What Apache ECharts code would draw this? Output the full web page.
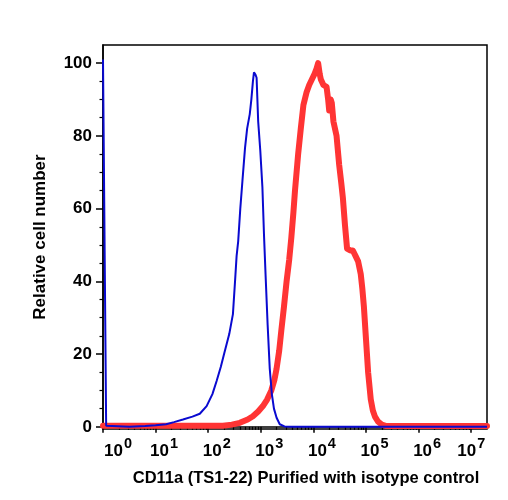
<!DOCTYPE html>
<html>
<head>
<meta charset="utf-8">
<script src="https://cdn.jsdelivr.net/npm/echarts@6/dist/echarts.min.js"></script>
<style>
  html, body { margin: 0; padding: 0; background: #fff; }
  #chart { width: 508px; height: 500px; }
</style>
</head>
<body>
<div id="chart"></div>
<script>
// x positions are log10 of fluorescence intensity (decades)
const isotypeLog = [0, 0.06, 0.5, 0.8, 1.0, 1.2, 1.35, 1.52, 1.7, 1.84, 1.97, 2.08, 2.16, 2.24, 2.31, 2.4, 2.47, 2.51, 2.54, 2.57, 2.61, 2.65, 2.7, 2.74, 2.79, 2.82, 2.85, 2.87, 2.9, 2.92, 2.95, 2.99, 3.03, 3.06, 3.09, 3.13, 3.17, 3.21, 3.25, 3.3, 3.36, 3.45, 3.6, 7.3];
const isotypeCount = [101, 0.3, 0, 0.2, 0.4, 0.7, 1.3, 2, 2.8, 3.6, 5.7, 9, 12.6, 16.5, 20.5, 25.5, 31, 40, 47, 51, 60, 67.5, 76.7, 82, 86, 90, 95, 97.5, 96.8, 96, 84, 76, 66, 53, 42, 28, 16, 9, 5, 2.5, 0.7, 0.1, 0, 0];

const cd11aLog = [0, 2.28, 2.45, 2.6, 2.75, 2.85, 2.95, 3.04, 3.12, 3.2, 3.26, 3.3, 3.35, 3.39, 3.44, 3.49, 3.54, 3.58, 3.62, 3.65, 3.71, 3.76, 3.81, 3.87, 3.92, 3.97, 4.02, 4.06, 4.09, 4.12, 4.14, 4.17, 4.19, 4.25, 4.28, 4.3, 4.33, 4.35, 4.38, 4.44, 4.49, 4.53, 4.56, 4.6, 4.64, 4.7, 4.75, 4.8, 4.85, 4.9, 4.93, 4.96, 5.0, 5.04, 5.09, 5.13, 5.17, 5.23, 5.3, 5.39, 7.3];
const cd11aCount = [0.3, 0.3, 0.6, 1.1, 2, 2.9, 4.2, 5.7, 7.5, 10, 13, 16, 21, 26.5, 33, 40, 46, 52, 59, 65, 75, 82, 88.5, 92, 94, 95.5, 97, 98.5, 100, 97, 95.6, 96, 94, 93.5, 90, 87, 90, 89, 84, 80, 72, 67, 63, 55.5, 49, 48.5, 48.5, 47, 45.5, 42, 38, 33, 24, 15, 7.6, 4.5, 2.8, 1.4, 0.6, 0.2, 0.2];

const decadeTicks = [0, 1, 2, 3, 4, 5, 6, 7];
const minorDecadeTicks = [];
decadeTicks.forEach((d) => {
  for (let k = 2; k <= 9; k++) {
    const p = d + Math.log10(k);
    if (p < 7.3) minorDecadeTicks.push(p);
  }
});
const yTicks = [0, 20, 40, 60, 80, 100];
const yMinorTicks = [5, 10, 15, 25, 30, 35, 45, 50, 55, 65, 70, 75, 85, 90, 95];

const font = 'Liberation Sans, Arial, Helvetica, sans-serif';
const pair = (xs, ys) => xs.map((x, i) => [x, ys[i]]);
const baseText = { fontFamily: font, fontWeight: 'bold', fontSize: 17, color: '#000', lineHeight: 26, verticalAlign: 'bottom' };

const chart = echarts.init(document.getElementById('chart'), null, { renderer: 'canvas' });
chart.setOption({
  animation: false,
  backgroundColor: '#fff',
  grid: {
    left: 103, right: 21, top: 45, bottom: 71,
    show: true, borderColor: '#000', borderWidth: 1.5, backgroundColor: 'transparent',
  },
  xAxis: [
    {
      type: 'value', min: 0, max: 7.3, position: 'bottom',
      name: 'CD11a (TS1-22) Purified with isotype control',
      nameLocation: 'middle', nameGap: 41,
      nameTextStyle: { fontFamily: font, fontWeight: 'bold', fontSize: 16.5, color: '#000', padding: [0, 0, 0, 22] },
      axisLine: { lineStyle: { color: '#000', width: 1.5 } },
      axisTick: { customValues: decadeTicks, length: 6, lineStyle: { color: '#000', width: 1.5 } },
      axisLabel: {
        customValues: decadeTicks,
        showMinLabel: true,
        showMaxLabel: true,
        hideOverlap: false,
        margin: 5,
        formatter: (v) => {
          const base = v === 0 ? 'first' : v === 7 ? 'last' : 'mid';
          return '{' + base + '|10}{s|' + v + '}';
        },
        rich: {
          first: Object.assign({}, baseText, { padding: [0, 0, 0, 30] }),
          mid: Object.assign({}, baseText, { padding: [0, 0, 0, 17] }),
          last: Object.assign({}, baseText),
          s: { fontFamily: font, fontWeight: 'bold', fontSize: 14.5, color: '#000', lineHeight: 26, verticalAlign: 'top', padding: [2, 0, 0, 1] },
        },
      },
      splitLine: { show: false },
    },
    {
      type: 'value', min: 0, max: 7.3, position: 'bottom',
      axisLine: { show: false },
      axisTick: { customValues: minorDecadeTicks, length: 3, lineStyle: { color: '#000', width: 1.2 } },
      axisLabel: { show: false },
      splitLine: { show: false },
    },
  ],
  yAxis: [
    {
      type: 'value', min: -0.6, max: 105, position: 'left',
      name: 'Relative cell number',
      nameLocation: 'middle', nameGap: 54,
      nameTextStyle: { fontFamily: font, fontWeight: 'bold', fontSize: 17, color: '#000' },
      axisLine: { show: true, lineStyle: { color: '#000', width: 1.5 } },
      axisTick: { show: true, customValues: yTicks, length: 7, lineStyle: { color: '#000', width: 1.5 } },
      axisLabel: { customValues: yTicks, margin: 11, fontFamily: font, fontWeight: 'bold', fontSize: 17, color: '#000' },
      splitLine: { show: false },
    },
    {
      type: 'value', min: -0.6, max: 105, position: 'left',
      axisLine: { show: false },
      axisTick: { show: true, customValues: yMinorTicks, length: 3.5, lineStyle: { color: '#000', width: 1.2 } },
      axisLabel: { show: false },
      splitLine: { show: false },
    },
  ],
  series: [
    {
      name: 'CD11a (TS1-22)',
      type: 'line',
      data: pair(cd11aLog, cd11aCount),
      showSymbol: false,
      lineStyle: { color: '#ff3434', width: 6, join: 'round', cap: 'round' },
    },
    {
      name: 'Isotype control',
      type: 'line',
      data: pair(isotypeLog, isotypeCount),
      showSymbol: false,
      lineStyle: { color: '#0a0ad0', width: 2 },
    },
  ],
});
</script>
</body>
</html>
